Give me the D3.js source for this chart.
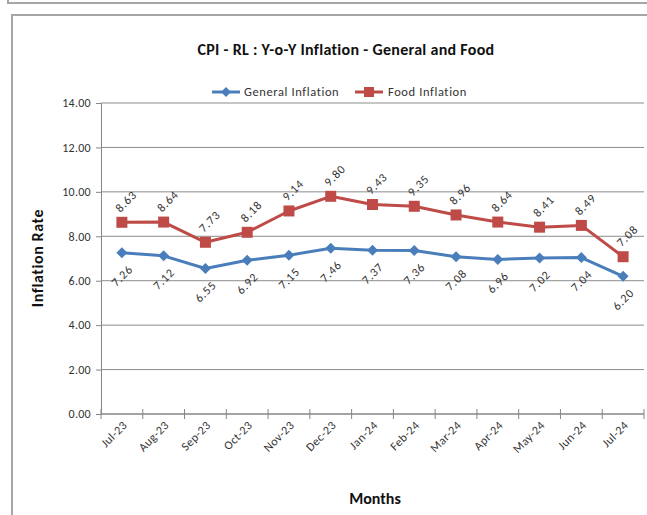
<!DOCTYPE html>
<html><head><meta charset="utf-8">
<script src="https://cdn.jsdelivr.net/npm/d3@7"></script>
<style>
body{margin:0;background:#fff;}
svg text{font-family:"Carlito","Liberation Sans Narrow","Open Sans",sans-serif;}
</style></head>
<body>
<svg id="c" width="647" height="515"></svg>
<script>
const months = ["Jul-23","Aug-23","Sep-23","Oct-23","Nov-23","Dec-23","Jan-24","Feb-24","Mar-24","Apr-24","May-24","Jun-24","Jul-24"];
const generalInflation = [7.26,7.12,6.55,6.92,7.15,7.46,7.37,7.36,7.08,6.96,7.02,7.04,6.20];
const foodInflation = [8.63,8.64,7.73,8.18,9.14,9.80,9.43,9.35,8.96,8.64,8.41,8.49,7.08];
const yTicks = [0,2,4,6,8,10,12,14];
const seriesNames = ["General Inflation","Food Inflation"];
const colors = ["#4A7EBB","#BE4B48"];

const svg = d3.select("#c");

// frames
svg.append("path").attr("d","M8,-2 V3 H647").attr("fill","none").attr("stroke","#a6a6a6").attr("stroke-width",2);
svg.append("path").attr("d","M12,520 V15 H650").attr("fill","none").attr("stroke","#a6a6a6").attr("stroke-width",2);

const x = d3.scaleBand().domain(months).range([101,644]);
const y = d3.scaleLinear().domain([0,14]).range([414,103]);
const cx = (i)=>x(months[i])+x.bandwidth()/2;

// gridlines
svg.append("g").selectAll("line").data(yTicks.filter(d=>d>0)).join("line")
  .attr("x1",101).attr("x2",644).attr("y1",d=>y(d)).attr("y2",d=>y(d))
  .attr("stroke","#8c8c8c").attr("stroke-width",1);

// y axis
const yAxis = d3.axisLeft(y).tickValues(yTicks).tickFormat(d3.format(".2f")).tickSize(5).tickPadding(5);
const gy = svg.append("g").attr("transform","translate(101,0)").call(yAxis);
gy.select(".domain").attr("stroke","#868686");
gy.selectAll(".tick line").attr("stroke","#868686");
gy.selectAll(".tick text").attr("font-size",12).attr("letter-spacing",0.3).attr("fill","#333");

// x axis with cross ticks at category boundaries
const gx = svg.append("g").attr("transform","translate(0,414)");
gx.append("line").attr("x1",101).attr("x2",644).attr("stroke","#868686").attr("stroke-width",1.5);
const bounds = months.map(m=>x(m)).concat([x(months[months.length-1])+x.bandwidth()]);
gx.selectAll("line.t").data(bounds).join("line").attr("class","t")
  .attr("x1",d=>d).attr("x2",d=>d).attr("y1",-5).attr("y2",5).attr("stroke","#868686");
gx.selectAll("text").data(months).join("text")
  .attr("transform",d=>`translate(${x(d)+x.bandwidth()/2+6},${12}) rotate(-45)`)
  .attr("text-anchor","end").attr("font-size",12).attr("letter-spacing",0.4).attr("fill","#333").text(d=>d);

// lines
const line = d3.line().x((d,i)=>cx(i)).y(d=>y(d));
[generalInflation, foodInflation].forEach((vals,k)=>{
  svg.append("path").datum(vals).attr("d",line).attr("fill","none")
    .attr("stroke",colors[k]).attr("stroke-width",3).attr("stroke-linejoin","round");
});
// markers
svg.append("g").selectAll("path").data(generalInflation).join("path")
  .attr("d","M0,-5.5L5.5,0L0,5.5L-5.5,0Z")
  .attr("transform",(d,i)=>`translate(${cx(i)},${y(d)})`)
  .attr("fill",colors[0]);
svg.append("g").selectAll("rect").data(foodInflation).join("rect")
  .attr("x",(d,i)=>cx(i)-5.5).attr("y",d=>y(d)-5.5)
  .attr("width",11).attr("height",11).attr("fill",colors[1]);

// data labels
svg.append("g").selectAll("text").data(foodInflation).join("text")
  .attr("transform",(d,i)=>`translate(${cx(i)+4},${y(d)-21}) rotate(-45)`)
  .attr("text-anchor","middle").attr("dy","0.35em").attr("font-size",12).attr("letter-spacing",0.8).attr("fill","#333")
  .text(d=>d.toFixed(2));
svg.append("g").selectAll("text").data(generalInflation).join("text")
  .attr("transform",(d,i)=>`translate(${cx(i)},${y(d)+23}) rotate(-45)`)
  .attr("text-anchor","middle").attr("dy","0.35em").attr("font-size",12).attr("letter-spacing",0.8).attr("fill","#333")
  .text(d=>d.toFixed(2));

// title
svg.append("text").attr("x",346).attr("y",55).attr("text-anchor","middle")
  .attr("font-size",16).attr("letter-spacing",0.3).attr("font-weight","bold").attr("fill","#111")
  .text("CPI - RL : Y-o-Y Inflation - General and Food");

// legend
const lg = svg.append("g").attr("transform","translate(0,92)");
lg.append("line").attr("x1",212).attr("x2",240).attr("stroke",colors[0]).attr("stroke-width",3);
lg.append("path").attr("d","M0,-5L5,0L0,5L-5,0Z").attr("transform","translate(226,0)").attr("fill",colors[0]);
lg.append("text").attr("x",244).attr("dy","0.35em").attr("font-size",12.5).attr("letter-spacing",0.6).attr("fill","#333").text(seriesNames[0]);
lg.append("line").attr("x1",355).attr("x2",383).attr("stroke",colors[1]).attr("stroke-width",3);
lg.append("rect").attr("x",364).attr("y",-5).attr("width",10).attr("height",10).attr("fill",colors[1]);
lg.append("text").attr("x",388).attr("dy","0.35em").attr("font-size",12.5).attr("letter-spacing",0.6).attr("fill","#333").text(seriesNames[1]);

// axis titles
svg.append("text").attr("transform","translate(43,258) rotate(-90)").attr("text-anchor","middle")
  .attr("font-size",16).attr("letter-spacing",0.6).attr("font-weight","bold").attr("fill","#111").text("Inflation Rate");
svg.append("text").attr("x",375).attr("y",504).attr("text-anchor","middle")
  .attr("font-size",16).attr("font-weight","bold").attr("fill","#111").text("Months");
</script>
</body></html>
